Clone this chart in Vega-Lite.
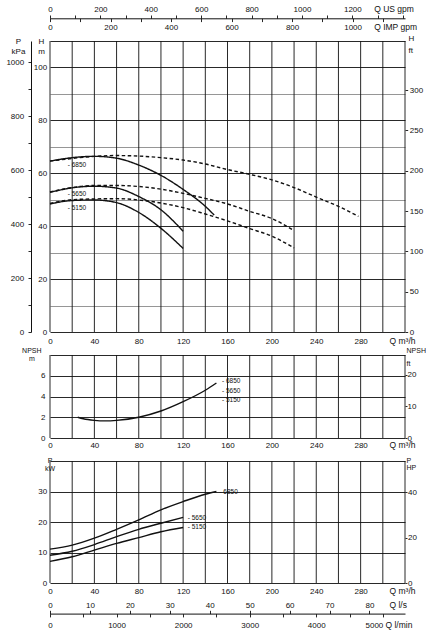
{
  "$schema": "https://vega.github.io/schema/vega-lite/v6.json",
  "padding": {"left": 5, "top": 5, "right": 0, "bottom": 0},
  "width": 355,
  "height": 542,
  "config": {
    "font": "Liberation Sans",
    "view": {"stroke": null},
    "axis": {
      "labelFontSize": 8, "titleFontSize": 8, "titleFontWeight": "normal",
      "labelColor": "#111", "titleColor": "#111", "domainColor": "#111", "tickColor": "#111",
      "gridColor": "#111", "gridWidth": 0.9, "gridOpacity": 1, "tickWidth": 0.9, "domainWidth": 1,
      "labelFlush": false, "labelOverlap": false, "labelBound": false, "titlePadding": 0
    }
  },
  "datasets": {
    "qgrid": [
      {"q": 0}, {"q": 20}, {"q": 40}, {"q": 60}, {"q": 80}, {"q": 100}, {"q": 120}, {"q": 140}, {"q": 160},
      {"q": 180}, {"q": 200}, {"q": 220}, {"q": 240}, {"q": 260}, {"q": 280}, {"q": 300}, {"q": 320}
    ],
    "head": [
      {"speed": "6850", "kind": "solid", "q": 0, "h": 64.6},
      {"speed": "6850", "kind": "solid", "q": 20, "h": 65.9},
      {"speed": "6850", "kind": "solid", "q": 40, "h": 66.4},
      {"speed": "6850", "kind": "solid", "q": 60, "h": 65.7},
      {"speed": "6850", "kind": "solid", "q": 80, "h": 63.1},
      {"speed": "6850", "kind": "solid", "q": 100, "h": 59.2},
      {"speed": "6850", "kind": "solid", "q": 120, "h": 53.9},
      {"speed": "6850", "kind": "solid", "q": 140, "h": 47.5},
      {"speed": "6850", "kind": "solid", "q": 148, "h": 44.2},
      {"speed": "5650", "kind": "solid", "q": 0, "h": 52.8},
      {"speed": "5650", "kind": "solid", "q": 20, "h": 54.5},
      {"speed": "5650", "kind": "solid", "q": 40, "h": 55.1},
      {"speed": "5650", "kind": "solid", "q": 60, "h": 54.4},
      {"speed": "5650", "kind": "solid", "q": 80, "h": 51.2},
      {"speed": "5650", "kind": "solid", "q": 100, "h": 46.2},
      {"speed": "5650", "kind": "solid", "q": 120, "h": 38.1},
      {"speed": "5150", "kind": "solid", "q": 0, "h": 48.4},
      {"speed": "5150", "kind": "solid", "q": 20, "h": 49.7},
      {"speed": "5150", "kind": "solid", "q": 40, "h": 49.9},
      {"speed": "5150", "kind": "solid", "q": 60, "h": 48.9},
      {"speed": "5150", "kind": "solid", "q": 80, "h": 45.2},
      {"speed": "5150", "kind": "solid", "q": 100, "h": 39.2},
      {"speed": "5150", "kind": "solid", "q": 120, "h": 31.6},
      {"speed": "6850", "kind": "dashed", "q": 0, "h": 64.6},
      {"speed": "6850", "kind": "dashed", "q": 20, "h": 65.6},
      {"speed": "6850", "kind": "dashed", "q": 40, "h": 66.4},
      {"speed": "6850", "kind": "dashed", "q": 60, "h": 66.7},
      {"speed": "6850", "kind": "dashed", "q": 80, "h": 66.5},
      {"speed": "6850", "kind": "dashed", "q": 100, "h": 65.9},
      {"speed": "6850", "kind": "dashed", "q": 120, "h": 65.0},
      {"speed": "6850", "kind": "dashed", "q": 140, "h": 63.5},
      {"speed": "6850", "kind": "dashed", "q": 160, "h": 61.4},
      {"speed": "6850", "kind": "dashed", "q": 180, "h": 59.6},
      {"speed": "6850", "kind": "dashed", "q": 200, "h": 57.5},
      {"speed": "6850", "kind": "dashed", "q": 220, "h": 54.6},
      {"speed": "6850", "kind": "dashed", "q": 240, "h": 51.0},
      {"speed": "6850", "kind": "dashed", "q": 260, "h": 47.5},
      {"speed": "6850", "kind": "dashed", "q": 278, "h": 43.7},
      {"speed": "5650", "kind": "dashed", "q": 0, "h": 52.9},
      {"speed": "5650", "kind": "dashed", "q": 20, "h": 54.6},
      {"speed": "5650", "kind": "dashed", "q": 40, "h": 55.4},
      {"speed": "5650", "kind": "dashed", "q": 60, "h": 55.4},
      {"speed": "5650", "kind": "dashed", "q": 80, "h": 55.0},
      {"speed": "5650", "kind": "dashed", "q": 100, "h": 54.0},
      {"speed": "5650", "kind": "dashed", "q": 120, "h": 52.4},
      {"speed": "5650", "kind": "dashed", "q": 140, "h": 50.5},
      {"speed": "5650", "kind": "dashed", "q": 160, "h": 48.4},
      {"speed": "5650", "kind": "dashed", "q": 180, "h": 45.6},
      {"speed": "5650", "kind": "dashed", "q": 200, "h": 42.9},
      {"speed": "5650", "kind": "dashed", "q": 220, "h": 38.3},
      {"speed": "5150", "kind": "dashed", "q": 0, "h": 48.6},
      {"speed": "5150", "kind": "dashed", "q": 20, "h": 50.0},
      {"speed": "5150", "kind": "dashed", "q": 40, "h": 50.3},
      {"speed": "5150", "kind": "dashed", "q": 60, "h": 50.4},
      {"speed": "5150", "kind": "dashed", "q": 80, "h": 49.9},
      {"speed": "5150", "kind": "dashed", "q": 100, "h": 48.75},
      {"speed": "5150", "kind": "dashed", "q": 120, "h": 47.0},
      {"speed": "5150", "kind": "dashed", "q": 140, "h": 44.6},
      {"speed": "5150", "kind": "dashed", "q": 160, "h": 42.0},
      {"speed": "5150", "kind": "dashed", "q": 180, "h": 39.1},
      {"speed": "5150", "kind": "dashed", "q": 200, "h": 36.2},
      {"speed": "5150", "kind": "dashed", "q": 220, "h": 31.8}
    ],
    "headLabels": [
      {"q": 16, "h": 63.1, "label": "- 6850"},
      {"q": 16, "h": 52.05, "label": "- 5650"},
      {"q": 16, "h": 46.75, "label": "- 5150"}
    ],
    "npsh": [
      {"q": 25, "npsh": 2.0},
      {"q": 30, "npsh": 1.85},
      {"q": 40, "npsh": 1.7},
      {"q": 50, "npsh": 1.65},
      {"q": 60, "npsh": 1.7},
      {"q": 80, "npsh": 2.0},
      {"q": 100, "npsh": 2.6},
      {"q": 120, "npsh": 3.5},
      {"q": 140, "npsh": 4.6},
      {"q": 150, "npsh": 5.3}
    ],
    "npshLabels": [
      {"q": 155, "npsh": 5.49, "label": "- 6850"},
      {"q": 155, "npsh": 4.56, "label": "- 5650"},
      {"q": 155, "npsh": 3.69, "label": "- 5150"}
    ],
    "power": [
      {"speed": "6850", "q": 0, "kw": 11.1},
      {"speed": "6850", "q": 20, "kw": 12.4},
      {"speed": "6850", "q": 40, "kw": 14.7},
      {"speed": "6850", "q": 60, "kw": 17.6},
      {"speed": "6850", "q": 80, "kw": 20.7},
      {"speed": "6850", "q": 100, "kw": 24.0},
      {"speed": "6850", "q": 120, "kw": 26.7},
      {"speed": "6850", "q": 140, "kw": 29.1},
      {"speed": "6850", "q": 150, "kw": 30.0},
      {"speed": "5650", "q": 0, "kw": 9.1},
      {"speed": "5650", "q": 20, "kw": 10.4},
      {"speed": "5650", "q": 40, "kw": 12.6},
      {"speed": "5650", "q": 60, "kw": 15.2},
      {"speed": "5650", "q": 80, "kw": 17.6},
      {"speed": "5650", "q": 100, "kw": 19.6},
      {"speed": "5650", "q": 120, "kw": 21.5},
      {"speed": "5150", "q": 0, "kw": 7.1},
      {"speed": "5150", "q": 20, "kw": 8.6},
      {"speed": "5150", "q": 40, "kw": 10.8},
      {"speed": "5150", "q": 60, "kw": 13.0},
      {"speed": "5150", "q": 80, "kw": 14.9},
      {"speed": "5150", "q": 100, "kw": 16.8},
      {"speed": "5150", "q": 120, "kw": 18.2}
    ],
    "powerLabels": [
      {"q": 152.7, "kw": 29.9, "label": "- 6850"},
      {"q": 124.2, "kw": 21.2, "label": "- 5650"},
      {"q": 124.2, "kw": 18.3, "label": "- 5150"}
    ]
  },
  "layer": [
    {
      "data": {"name": "qgrid"},
      "mark": {"type": "rule", "color": "#111", "strokeWidth": 0.9},
      "encoding": {
        "x": {"field": "q", "type": "quantitative", "scale": {"domain": [0, 320], "nice": false}, "axis": null},
        "y": {"datum": 0, "type": "quantitative", "scale": {"domain": [0, 110], "nice": false, "range": [291, 0]}, "axis": null},
        "y2": {"datum": 110}
      }
    },
    {
      "data": {"name": "head"},
      "mark": {"type": "line", "interpolate": "monotone", "color": "#111", "strokeWidth": 1.4},
      "encoding": {
        "x": {
          "field": "q", "type": "quantitative",
          "scale": {"domain": [0, 320], "nice": false},
          "axis": {
            "orient": "bottom", "offset": -251,
            "values": [0, 40, 80, 120, 160, 200, 240, 280],
            "grid": false, "ticks": false, "domain": false,
            "labelPadding": 5, "labelBaseline": "top",
            "title": "Q m³/h", "titleFontSize": 8.5, "titleX": 339, "titleY": 11.3,
            "titleAlign": "left", "titleBaseline": "alphabetic", "titleAngle": 0
          }
        },
        "y": {
          "field": "h", "type": "quantitative",
          "scale": {"domain": [0, 110], "nice": false, "range": [291, 0]},
          "axis": {
            "orient": "left",
            "values": [0, 10, 20, 30, 40, 50, 60, 70, 80, 90, 100, 110],
            "labelExpr": "datum.value % 20 === 0 && datum.value <= 100 ? datum.label : ''",
            "grid": true,
            "gridColor": {"condition": {"test": "datum.value % 20 === 0 || datum.value === 110", "value": "#111"}, "value": "#8a8a8a"},
            "ticks": false, "domain": false, "labelPadding": 3.3, "labelBaseline": "middle",
            "title": ["H", "m"], "titleX": -9, "titleY": 2.3, "titleAlign": "center",
            "titleBaseline": "alphabetic", "titleAngle": 0, "titleLineHeight": 10
          }
        },
        "detail": {"field": "speed"},
        "strokeDash": {
          "field": "kind", "type": "nominal",
          "scale": {"domain": ["solid", "dashed"], "range": [[1, 0], [3.5, 2.5]]},
          "legend": null
        }
      }
    },
    {
      "data": {"name": "headLabels"},
      "mark": {"type": "text", "align": "left", "baseline": "middle", "fontSize": 6.5, "color": "#111"},
      "encoding": {
        "x": {"field": "q", "type": "quantitative", "scale": {"domain": [0, 320], "nice": false}, "axis": null},
        "y": {"field": "h", "type": "quantitative", "scale": {"domain": [0, 110], "nice": false, "range": [291, 0]}, "axis": null},
        "text": {"field": "label"}
      }
    },
    {
      "data": {"values": [{"kpa": 0}, {"kpa": 1000}]},
      "mark": {"type": "point", "opacity": 0},
      "encoding": {
        "y": {
          "field": "kpa", "type": "quantitative",
          "scale": {"domain": [0, 1078.7], "nice": false, "range": [291, 0]},
          "axis": {
            "orient": "left", "offset": 19,
            "values": [0, 100, 200, 300, 400, 500, 600, 700, 800, 900, 1000],
            "labelExpr": "datum.value % 200 === 0 ? datum.label : ''",
            "format": "d", "grid": false, "domain": true, "tickSize": 3,
            "labelPadding": 4.3, "labelBaseline": "middle",
            "title": ["P", "kPa"], "titleX": -13, "titleY": 2.3, "titleAlign": "center",
            "titleBaseline": "alphabetic", "titleAngle": 0, "titleLineHeight": 10
          }
        }
      }
    },
    {
      "data": {"values": [{"ft": 0}, {"ft": 300}]},
      "mark": {"type": "point", "opacity": 0},
      "encoding": {
        "y": {
          "field": "ft", "type": "quantitative",
          "scale": {"domain": [0, 360.9], "nice": false, "range": [291, 0]},
          "axis": {
            "orient": "right", "values": [0, 50, 100, 150, 200, 250, 300],
            "grid": false, "domain": false, "tickSize": 2.7, "labelPadding": 1.6, "labelBaseline": "middle",
            "title": ["H", "ft"], "titleX": 3, "titleY": -1, "titleAlign": "left",
            "titleBaseline": "alphabetic", "titleAngle": 0, "titleLineHeight": 12.7
          }
        }
      }
    },
    {
      "data": {"values": [{"usgpm": 0}, {"usgpm": 1400}]},
      "mark": {"type": "point", "opacity": 0},
      "encoding": {
        "x": {
          "field": "usgpm", "type": "quantitative",
          "scale": {"domain": [0, 1408.9], "nice": false},
          "axis": {
            "orient": "top", "offset": 22.7,
            "values": [0, 100, 200, 300, 400, 500, 600, 700, 800, 900, 1000, 1100, 1200, 1300, 1400],
            "labelExpr": "datum.value % 200 === 0 && datum.value <= 1200 ? datum.label : ''",
            "format": "d", "grid": false, "domain": true, "tickSize": 3.3,
            "labelPadding": 3.3, "labelBaseline": "alphabetic",
            "title": "Q US gpm", "titleFontSize": 8.5, "titleX": 323.7, "titleY": -6.3,
            "titleAlign": "left", "titleBaseline": "alphabetic", "titleAngle": 0
          }
        }
      }
    },
    {
      "data": {"values": [{"impgpm": 0}, {"impgpm": 1100}]},
      "mark": {"type": "point", "opacity": 0},
      "encoding": {
        "x": {
          "field": "impgpm", "type": "quantitative",
          "scale": {"domain": [0, 1173.2], "nice": false},
          "axis": {
            "orient": "top", "offset": 22.7,
            "values": [0, 100, 200, 300, 400, 500, 600, 700, 800, 900, 1000, 1100],
            "labelExpr": "datum.value % 200 === 0 ? datum.label : ''",
            "format": "d", "grid": false, "domain": false, "tickSize": -3.3,
            "labelPadding": -7.7, "labelBaseline": "alphabetic",
            "title": "Q IMP gpm", "titleFontSize": 8.5, "titleX": 323.7, "titleY": 11,
            "titleAlign": "left", "titleBaseline": "alphabetic", "titleAngle": 0
          }
        }
      }
    },
    {
      "data": {"name": "qgrid"},
      "mark": {"type": "rule", "color": "#111", "strokeWidth": 0.9},
      "encoding": {
        "x": {"field": "q", "type": "quantitative", "scale": {"domain": [0, 320], "nice": false}, "axis": null},
        "y": {"datum": 0, "type": "quantitative", "scale": {"domain": [0, 8], "nice": false, "range": [397, 314]}, "axis": null},
        "y2": {"datum": 8}
      }
    },
    {
      "data": {"name": "npsh"},
      "mark": {"type": "line", "interpolate": "monotone", "color": "#111", "strokeWidth": 1.4},
      "encoding": {
        "x": {
          "field": "q", "type": "quantitative",
          "scale": {"domain": [0, 320], "nice": false},
          "axis": {
            "orient": "bottom", "offset": -145,
            "values": [0, 40, 80, 120, 160, 200, 240, 280],
            "grid": false, "ticks": false, "domain": false,
            "labelPadding": 3, "labelBaseline": "top",
            "title": "Q m³/h", "titleFontSize": 8.5, "titleX": 339, "titleY": 9.3,
            "titleAlign": "left", "titleBaseline": "alphabetic", "titleAngle": 0
          }
        },
        "y": {
          "field": "npsh", "type": "quantitative",
          "scale": {"domain": [0, 8], "nice": false, "range": [397, 314]},
          "axis": {
            "orient": "left",
            "values": [0, 2, 4, 6, 8],
            "labelExpr": "datum.value < 8 ? datum.label : ''",
            "grid": true, "ticks": false, "domain": false, "labelPadding": 5, "labelBaseline": "middle",
            "title": ["NPSH", "m"], "titleFontSize": 7, "titleX": -18.7, "titleY": 311.7,
            "titleAlign": "center", "titleBaseline": "alphabetic", "titleAngle": 0, "titleLineHeight": 8
          }
        }
      }
    },
    {
      "data": {"name": "npshLabels"},
      "mark": {"type": "text", "align": "left", "baseline": "middle", "fontSize": 6.5, "color": "#111"},
      "encoding": {
        "x": {"field": "q", "type": "quantitative", "scale": {"domain": [0, 320], "nice": false}, "axis": null},
        "y": {"field": "npsh", "type": "quantitative", "scale": {"domain": [0, 8], "nice": false, "range": [397, 314]}, "axis": null},
        "text": {"field": "label"}
      }
    },
    {
      "data": {"values": [{"ft": 0}, {"ft": 20}]},
      "mark": {"type": "point", "opacity": 0},
      "encoding": {
        "y": {
          "field": "ft", "type": "quantitative",
          "scale": {"domain": [0, 26.25], "nice": false, "range": [397, 314]},
          "axis": {
            "orient": "right", "values": [0, 10, 20],
            "grid": false, "domain": false, "tickSize": 2, "labelPadding": 0, "labelBaseline": "middle",
            "title": ["NPSH", "ft"], "titleFontSize": 7, "titleX": 1, "titleY": 311.7, "titleAlign": "left",
            "titleBaseline": "alphabetic", "titleAngle": 0, "titleLineHeight": 13.3
          }
        }
      }
    },
    {
      "data": {"name": "qgrid"},
      "mark": {"type": "rule", "color": "#111", "strokeWidth": 0.9},
      "encoding": {
        "x": {"field": "q", "type": "quantitative", "scale": {"domain": [0, 320], "nice": false}, "axis": null},
        "y": {"datum": 0, "type": "quantitative", "scale": {"domain": [0, 40], "nice": false, "range": [542, 420]}, "axis": null},
        "y2": {"datum": 40}
      }
    },
    {
      "data": {"name": "power"},
      "mark": {"type": "line", "interpolate": "monotone", "color": "#111", "strokeWidth": 1.4},
      "encoding": {
        "x": {
          "field": "q", "type": "quantitative",
          "scale": {"domain": [0, 320], "nice": false},
          "axis": {
            "orient": "bottom",
            "values": [0, 40, 80, 120, 160, 200, 240, 280],
            "grid": false, "ticks": false, "domain": false,
            "labelPadding": 4.5, "labelBaseline": "top",
            "title": "Q m³/h", "titleFontSize": 8.5, "titleX": 339, "titleY": 10.8,
            "titleAlign": "left", "titleBaseline": "alphabetic", "titleAngle": 0
          }
        },
        "y": {
          "field": "kw", "type": "quantitative",
          "scale": {"domain": [0, 40], "nice": false, "range": [542, 420]},
          "axis": {
            "orient": "left",
            "values": [0, 10, 20, 30, 40],
            "labelExpr": "datum.value < 40 ? datum.label : ''",
            "grid": true, "ticks": false, "domain": false, "labelPadding": 3.3, "labelBaseline": "middle",
            "title": ["P", "kW"], "titleFontSize": 7, "titleX": -0.5, "titleY": 421,
            "titleAlign": "center", "titleBaseline": "alphabetic", "titleAngle": 0, "titleLineHeight": 8
          }
        },
        "detail": {"field": "speed"}
      }
    },
    {
      "data": {"name": "powerLabels"},
      "mark": {"type": "text", "align": "left", "baseline": "middle", "fontSize": 6.5, "color": "#111"},
      "encoding": {
        "x": {"field": "q", "type": "quantitative", "scale": {"domain": [0, 320], "nice": false}, "axis": null},
        "y": {"field": "kw", "type": "quantitative", "scale": {"domain": [0, 40], "nice": false, "range": [542, 420]}, "axis": null},
        "text": {"field": "label"}
      }
    },
    {
      "data": {"values": [{"hp": 0}, {"hp": 40}]},
      "mark": {"type": "point", "opacity": 0},
      "encoding": {
        "y": {
          "field": "hp", "type": "quantitative",
          "scale": {"domain": [0, 53.64], "nice": false, "range": [542, 420]},
          "axis": {
            "orient": "right", "values": [0, 20, 40],
            "grid": false, "domain": false, "tickSize": 2, "labelPadding": 0.5, "labelBaseline": "middle",
            "title": ["P", "HP"], "titleFontSize": 7, "titleX": 1, "titleY": 421, "titleAlign": "left",
            "titleBaseline": "alphabetic", "titleAngle": 0, "titleLineHeight": 7.5
          }
        }
      }
    },
    {
      "data": {"values": [{"ls": 0}, {"ls": 80}]},
      "mark": {"type": "point", "opacity": 0},
      "encoding": {
        "x": {
          "field": "ls", "type": "quantitative",
          "scale": {"domain": [0, 88.89], "nice": false},
          "axis": {
            "orient": "bottom", "offset": 30.6,
            "values": [0, 10, 20, 30, 40, 50, 60, 70, 80],
            "grid": false, "domain": false, "tickSize": -3.3,
            "labelPadding": -2.7, "labelBaseline": "alphabetic",
            "title": "Q l/s", "titleFontSize": 8.5, "titleX": 339, "titleY": -6,
            "titleAlign": "left", "titleBaseline": "alphabetic", "titleAngle": 0
          }
        }
      }
    },
    {
      "data": {"values": [{"lmin": 0}, {"lmin": 5000}]},
      "mark": {"type": "point", "opacity": 0},
      "encoding": {
        "x": {
          "field": "lmin", "type": "quantitative",
          "scale": {"domain": [0, 5333.3], "nice": false},
          "axis": {
            "orient": "bottom", "offset": 30.6,
            "values": [0, 500, 1000, 1500, 2000, 2500, 3000, 3500, 4000, 4500, 5000],
            "labelExpr": "datum.value % 1000 === 0 ? datum.label : ''",
            "labelAlign": {"condition": {"test": "datum.value === 5000", "value": "right"}, "value": "center"},
            "format": "d", "grid": false, "domain": true, "tickSize": 3.3,
            "labelPadding": 10.7, "labelBaseline": "alphabetic",
            "title": "Q l/min", "titleFontSize": 8.5, "titleX": 335, "titleY": 14,
            "titleAlign": "left", "titleBaseline": "alphabetic", "titleAngle": 0
          }
        }
      }
    }
  ],
  "resolve": {"scale": {"x": "independent", "y": "independent"}}
}
